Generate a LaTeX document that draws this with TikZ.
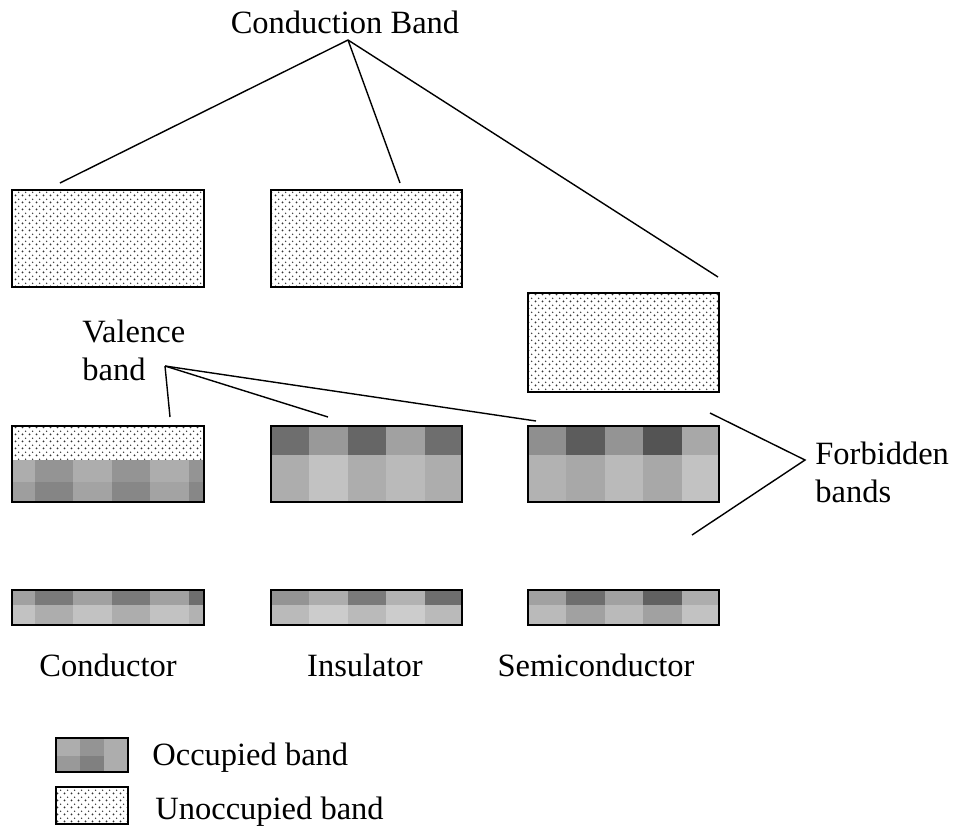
\documentclass[tikz,border=0pt]{standalone}
\usepackage{fontspec}
\setmainfont{Liberation Serif}
\usetikzlibrary{patterns}
\pgfdeclarepatternformonly{banddots}{\pgfqpoint{0pt}{0pt}}{\pgfqpoint{4pt}{4pt}}{\pgfqpoint{4pt}{4pt}}{%
  \pgfpathcircle{\pgfqpoint{1pt}{1pt}}{0.65pt}%
  \pgfpathcircle{\pgfqpoint{3pt}{3pt}}{0.5pt}%
  \pgfusepath{fill}}
\newcommand{\occrow}[4]{% left x, top y, bottom y, shades of the columns
  \foreach \g [count=\c from 0] in {#4}
    \fill[black!\g] ({#1+\c*38.4},#2) rectangle ({#1+(\c+1)*38.4},#3);}

\begin{document}
\begin{tikzpicture}[x=0.02cm, y=-0.02cm,
  lbl/.style={inner sep=0pt, font=\fontsize{18.5}{21.6}\selectfont},
  unocc/.style={pattern=banddots, pattern color=black!80},
  bandline/.style={draw, line width=1.3pt},
  ptr/.style={line width=0.8pt}]
\useasboundingbox (0,0) rectangle (957,829);

% conduction bands
\fill[unocc] (12,190) rectangle (204,287);
\fill[unocc] (271,190) rectangle (462,287);
\fill[unocc] (528,293) rectangle (719,392);

% valence bands
\fill[unocc] (12,426) rectangle (204,460);
\begin{scope}
  \clip (12,426) rectangle (204,502);
  \occrow{-3.4}{460}{482}{32,42,32,42,32,42}
  \occrow{-3.4}{482}{502}{38,48,36,47,36,47}
\end{scope}
\occrow{271}{426}{455}{57,40,60,37,57}
\occrow{271}{455}{502}{32,24,32,27,32}
\occrow{528}{426}{455}{44,64,42,67,34}
\occrow{528}{455}{502}{30,34,27,34,24}

% lower bands
\begin{scope}
  \clip (12,590) rectangle (204,625);
  \occrow{-3.4}{590}{605}{37,52,37,52,37,57}
  \occrow{-3.4}{605}{625}{24,32,24,32,24,30}
\end{scope}
\occrow{271}{590}{605}{42,32,52,30,57}
\occrow{271}{605}{625}{27,20,27,20,27}
\occrow{528}{590}{605}{37,57,37,62,32}
\occrow{528}{605}{625}{27,37,27,37,24}

% outlines
\foreach \xa/\xb in {12/204, 271/462, 528/719} {
  \draw[bandline] (\xa,426) rectangle (\xb,502);
  \draw[bandline] (\xa,590) rectangle (\xb,625);
}
\draw[bandline] (12,190) rectangle (204,287);
\draw[bandline] (271,190) rectangle (462,287);
\draw[bandline] (528,293) rectangle (719,392);

% labels
\node[lbl, anchor=base] (cb) at (345,33) {Conduction Band};
\node[lbl, anchor=base west, align=left] (vb) at (82,380) {Valence\\band};
\node[lbl, anchor=base west, align=left] (fb) at (815,502) {Forbidden\\bands};
\node[lbl, anchor=base] (cond) at (108,676) {Conductor};
\node[lbl, anchor=base] (insu) at (365,676) {Insulator};
\node[lbl, anchor=base] (semi) at (596,676) {Semiconductor};

% pointers
\coordinate (cb-tip) at (348,40);
\coordinate (cb-a) at (60,183);
\coordinate (cb-b) at (400,183);
\coordinate (cb-c) at (718,277);
\foreach \e in {cb-a, cb-b, cb-c}
  \draw[ptr] (cb-tip) -- (\e);
\coordinate (vb-tip) at (165,366);
\coordinate (vb-a) at (170,417);
\coordinate (vb-b) at (328,417);
\coordinate (vb-c) at (536,421);
\foreach \e in {vb-a, vb-b, vb-c}
  \draw[ptr] (vb-tip) -- (\e);
\coordinate (fb-tip) at (805,460);
\coordinate (fb-a) at (710,413);
\coordinate (fb-b) at (692,535);
\draw[ptr] (fb-a) -- (fb-tip) -- (fb-b);

% legend
\begin{scope}
  \clip (56,738) rectangle (128,772);
  \fill[black!32] (56,738) rectangle (128,772);
  \fill[black!42] (80,738) rectangle (104,756);
  \fill[black!50] (80,756) rectangle (104,772);
  \fill[black!40] (56,756) rectangle (80,772);
\end{scope}
\draw[line width=0.9pt] (56,738) rectangle (128,772);
\fill[unocc] (56,787) rectangle (128,824);
\draw[line width=0.9pt] (56,787) rectangle (128,824);
\node[lbl, anchor=base west] (occ) at (152,765) {Occupied band};
\node[lbl, anchor=base west] (unoc) at (155,819) {Unoccupied band};
\end{tikzpicture}
\end{document}
